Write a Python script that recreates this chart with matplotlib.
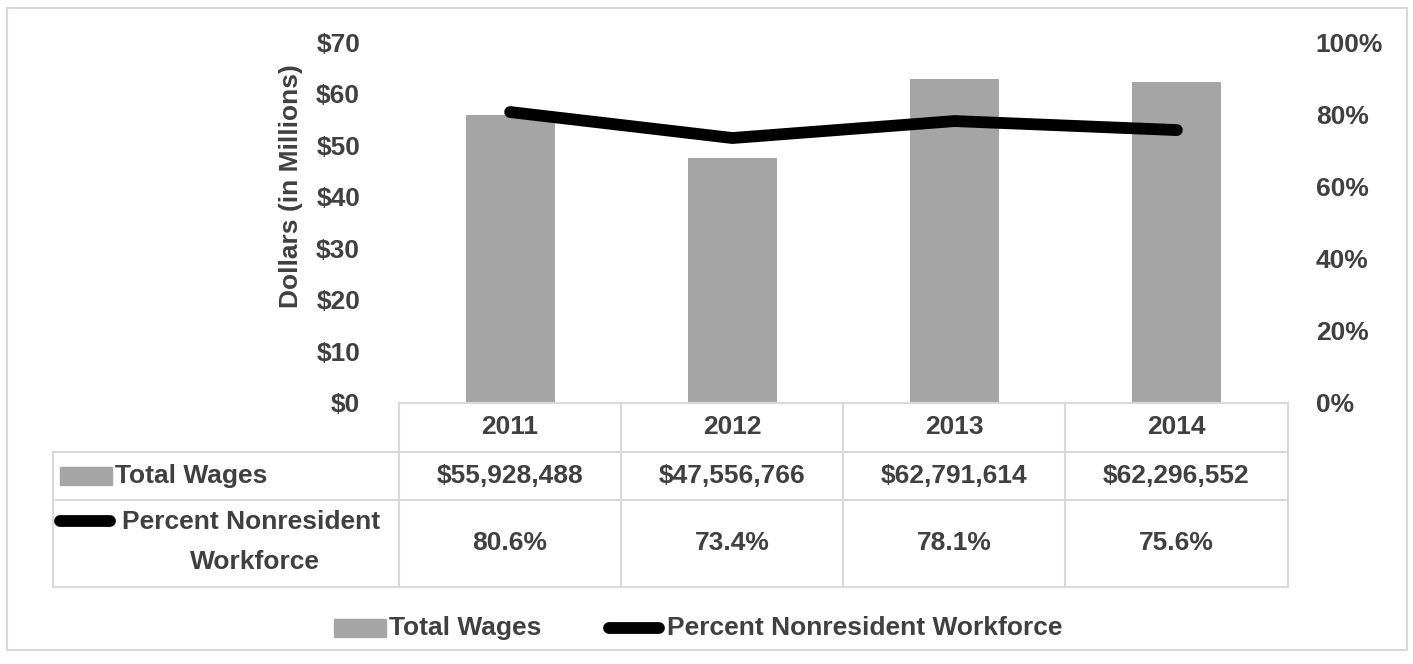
import numpy as np
import matplotlib.pyplot as plt
from matplotlib.lines import Line2D
from matplotlib.patches import Rectangle

years = ['2011', '2012', '2013', '2014']
wages = [55928488, 47556766, 62791614, 62296552]
pct_nonres = [80.6, 73.4, 78.1, 75.6]
wage_labels = ['$55,928,488', '$47,556,766', '$62,791,614', '$62,296,552']
pct_labels = ['80.6%', '73.4%', '78.1%', '75.6%']

plt.rcParams['font.family'] = ['Liberation Sans', 'DejaVu Sans']
plt.rcParams['font.weight'] = 'bold'
txt = '#404040'
grid = '#d9d9d9'
bar_col = '#a5a5a5'
fs = 19
lw_line = 8.5

W, H = 1413, 664
fig = plt.figure(figsize=(W / 100, H / 100), dpi=100)


def fx(px):
    return px / W


def fy(py):
    return 1 - py / H


# plot area
x0, x1, ytop, ybot = 399, 1288, 42, 403
ax = fig.add_axes([fx(x0), fy(ybot), fx(x1) - fx(x0), fy(ytop) - fy(ybot)])
x = np.arange(len(years))
ax.bar(x, np.array(wages) / 1e6, width=0.4, color=bar_col, zorder=2)
ax.set_xlim(-0.5, 3.5)
ax.set_ylim(0, 70)
ax.set_yticks(range(0, 71, 10))
ax.set_yticklabels(['$%d' % v for v in range(0, 71, 10)], fontsize=fs, color=txt, fontweight='bold')
ax.set_xticks([])
for s in ax.spines.values():
    s.set_visible(False)
ax.tick_params(axis='y', length=0, pad=28)

fig.text(fx(291), fy(186), 'Dollars (in Millions)', rotation=90, ha='center', va='center',
         fontsize=fs, color=txt, fontweight='bold')

ax2 = ax.twinx()
ax2.plot(x, pct_nonres, color='black', lw=lw_line, solid_capstyle='round', zorder=3)
ax2.set_ylim(0, 100)
ax2.set_yticks(range(0, 101, 20))
ax2.set_yticklabels(['%d%%' % v for v in range(0, 101, 20)], fontsize=fs, color=txt, fontweight='bold')
for s in ax2.spines.values():
    s.set_visible(False)
ax2.tick_params(axis='y', length=0, pad=20)
ax2.set_xlim(-0.5, 3.5)

# outer chart border
fig.add_artist(Rectangle((fx(7), fy(650)), fx(1407) - fx(7), fy(8) - fy(650),
                         transform=fig.transFigure, fill=False, edgecolor=grid, lw=1.5))

# data table
cols = [399, 621, 843, 1065, 1288]
rows = [403, 452, 500, 587]
left = 53


def hline(py, xa, xb):
    fig.add_artist(Line2D([fx(xa), fx(xb)], [fy(py), fy(py)], color=grid, lw=1.5,
                          transform=fig.transFigure))


def vline(px, ya, yb):
    fig.add_artist(Line2D([fx(px), fx(px)], [fy(ya), fy(yb)], color=grid, lw=1.5,
                          transform=fig.transFigure))


hline(rows[0], cols[0], cols[-1])
for r in rows[1:]:
    hline(r, left, cols[-1])
for c in cols:
    vline(c, rows[0], rows[-1])
vline(left, rows[1], rows[-1])

for i in range(4):
    cx = fx((cols[i] + cols[i + 1]) / 2)
    fig.text(cx, fy((rows[0] + rows[1]) / 2), years[i], ha='center', va='center',
             fontsize=fs, color=txt, fontweight='bold')
    fig.text(cx, fy((rows[1] + rows[2]) / 2), wage_labels[i], ha='center', va='center',
             fontsize=fs, color=txt, fontweight='bold')
    fig.text(cx, fy((rows[2] + rows[3]) / 2), pct_labels[i], ha='center', va='center',
             fontsize=fs, color=txt, fontweight='bold')

# row headers with legend keys
fig.add_artist(Rectangle((fx(60), fy(485)), fx(112) - fx(60), fy(467) - fy(485),
                         transform=fig.transFigure, color=bar_col))
fig.text(fx(115), fy(476), 'Total Wages', ha='left', va='center', fontsize=fs,
         color=txt, fontweight='bold')
fig.add_artist(Line2D([fx(60), fx(110)], [fy(521), fy(521)], color='black', lw=lw_line,
                      solid_capstyle='round', transform=fig.transFigure))
fig.text(fx(251), fy(522), 'Percent Nonresident', ha='center', va='center',
         fontsize=fs, color=txt, fontweight='bold')
fig.text(fx(255), fy(562), 'Workforce', ha='center', va='center',
         fontsize=fs, color=txt, fontweight='bold')

# bottom legend
fig.add_artist(Rectangle((fx(334), fy(637)), fx(386) - fx(334), fy(619) - fy(637),
                         transform=fig.transFigure, color=bar_col))
fig.text(fx(389), fy(628), 'Total Wages', ha='left', va='center', fontsize=fs,
         color=txt, fontweight='bold')
fig.add_artist(Line2D([fx(609), fx(659)], [fy(628), fy(628)], color='black', lw=lw_line,
                      solid_capstyle='round', transform=fig.transFigure))
fig.text(fx(667), fy(628), 'Percent Nonresident Workforce', ha='left', va='center',
         fontsize=fs, color=txt, fontweight='bold')

fig.savefig('out.png', dpi=100)
